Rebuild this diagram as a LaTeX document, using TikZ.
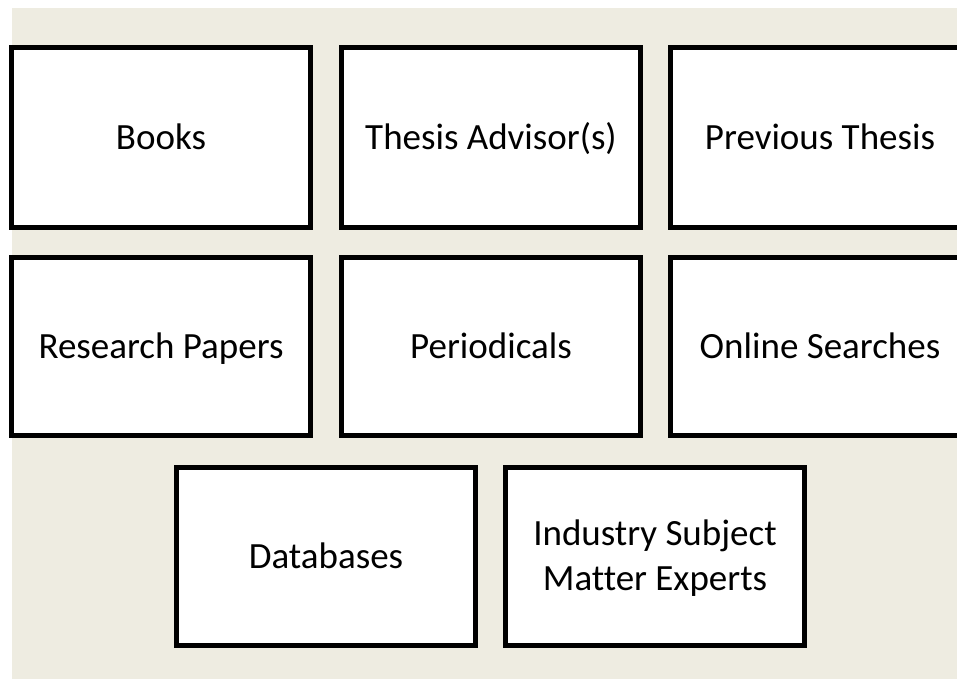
\documentclass[tikz,border=0pt]{standalone}
\usepackage{fontspec}
\setmainfont{Carlito}[Ligatures=NoCommon]
\definecolor{bgtan}{HTML}{EEECE1}
\begin{document}
\begin{tikzpicture}[x=1pt,y=-1pt,
  card/.style={draw=black,fill=white,line width=5pt,minimum width=299pt,minimum height=180pt,
    inner sep=0pt,outer sep=0pt,align=center,font=\fontsize{37}{45}\selectfont,text=black,
    text height=23.8pt,text depth=0pt},
  cardb/.style={card,minimum height=178pt}]
\useasboundingbox (0,0) rectangle (957,679);
\fill[bgtan] (12,8) rectangle (957,679);
\node[card] (books) at (161,137.5) {Books};
\node[card] (advisor) at (491,137.5) {Thesis Advisor(s)};
\node[card] (prev) at (820,137.5) {Previous Thesis};
\node[cardb] (research) at (161,346.5) {Research Papers};
\node[cardb] (period) at (491,346.5) {Periodicals};
\node[cardb] (online) at (820,346.5) {Online Searches};
\node[cardb] (db) at (326,556.5) {Databases};
\node[cardb,text height=68.8pt] (experts) at (655,556.5) {Industry Subject\\Matter Experts};
\end{tikzpicture}
\end{document}
